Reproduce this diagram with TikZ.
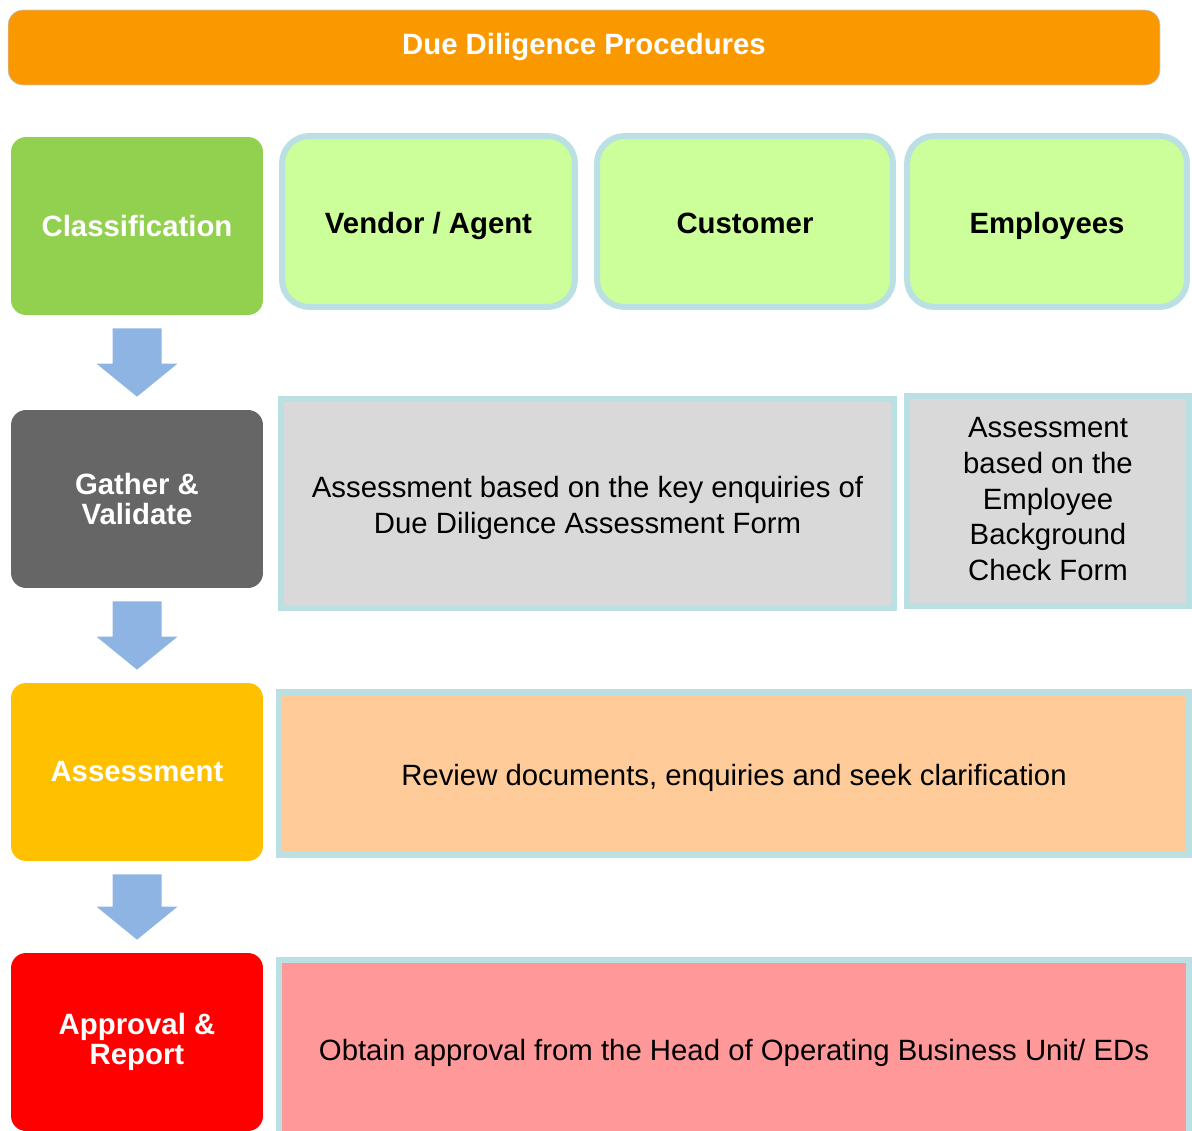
\documentclass[tikz,border=0pt]{standalone}
\usepackage{fontspec}
\setmainfont{Liberation Sans}
\usepackage{tikz}
\usetikzlibrary{calc}

\definecolor{bannerorange}{RGB}{250,152,0}
\definecolor{edgeblue}{RGB}{187,224,228}
\definecolor{stagegreen}{RGB}{146,208,80}
\definecolor{stagegray}{RGB}{102,102,102}
\definecolor{stageamber}{RGB}{255,192,0}
\definecolor{stagered}{RGB}{255,0,0}
\definecolor{kindgreen}{RGB}{204,255,153}
\definecolor{taskgray}{RGB}{217,217,217}
\definecolor{taskpeach}{RGB}{255,204,153}
\definecolor{taskpink}{RGB}{255,153,153}
\definecolor{flowblue}{RGB}{142,180,227}

\begin{document}
\begin{tikzpicture}[
		x=0.02cm, y=-0.02cm,
		stage/.style={rounded corners=0.3cm, minimum width=5.04cm, minimum height=3.56cm,
			inner sep=0pt, align=center, text=white,
			font=\bfseries\fontsize{16.7}{17.2}\selectfont},
		kind/.style={draw=edgeblue, line width=0.12cm, fill=kindgreen, rounded corners=0.55cm,
			minimum height=3.42cm, inner sep=0pt, text height=16.7pt, text depth=3pt,
			font=\bfseries\fontsize{16.7}{20}\selectfont},
		task/.style={draw=edgeblue, line width=0.12cm, inner sep=0pt, align=center,
			font=\fontsize{16.7}{20.4}\selectfont},
		oneline/.style={text height=16.7pt, text depth=3pt},
		flow/.style={fill=flowblue}
	]
		\useasboundingbox (0,0) rectangle (1192,1131);
		\clip (0,0) rectangle (1192,1131);

		\node[draw=gray!45, fill=bannerorange, rounded corners=0.3cm, minimum width=23.04cm,
			minimum height=1.5cm, text=white, font=\bfseries\fontsize{16.7}{20}\selectfont]
			(title) at (584,47.5) {\raisebox{0.14cm}{Due Diligence Procedures}};

		% steps down the left side
		\node[stage, fill=stagegreen] (cls) at (137,226) {Classification};
		\node[stage, fill=stagegray] (gat) at (137,499) {Gather \&\\Validate};
		\node[stage, fill=stageamber] (asm) at (137,772) {Assessment};
		\node[stage, fill=stagered] (apr) at (137,1042) {Approval \&\\Report};

		\foreach \a/\b in {cls/gat, gat/asm, asm/apr}
			\fill[flow] ($(\a.south)+(-24.5,13)$) -- ($(\a.south)+(24.5,13)$)
				-- ($(\b.north)+(24.5,-46)$) -- ($(\b.north)+(40.5,-46)$)
				-- ($(\b.north)+(0,-13)$) -- ($(\b.north)+(-40.5,-46)$)
				-- ($(\b.north)+(-24.5,-46)$) -- cycle;

		% parties
		\node[kind, minimum width=5.86cm] (vendor) at (428.5,221.5) {Vendor / Agent};
		\node[kind, minimum width=5.92cm] (customer) at (745,221.5) {Customer};
		\node[kind, minimum width=5.6cm] (employees) at (1047,221.5) {Employees};

		% what is done at each step
		\node[task, fill=taskgray, minimum width=12.26cm, minimum height=4.18cm] (keyform)
			at (587.5,503.5) {\rule{0pt}{1em}Assessment based on the key enquiries of\\Due Diligence Assessment Form};
		\node[task, fill=taskgray, minimum width=5.64cm, minimum height=4.2cm] (checkform)
			at (1048,501) {Assessment\\based on the\\Employee\\Background\\Check Form\rule[-0.08cm]{0pt}{0pt}};
		\node[task, oneline, fill=taskpeach, minimum width=18.2cm, minimum height=3.26cm] (review)
			at (734,773.5) {Review documents, enquiries and seek clarification};
		\node[task, oneline, fill=taskpink, minimum width=18.2cm, minimum height=3.52cm] (approve)
			at (734,1048) {Obtain approval from the Head of Operating Business Unit/ EDs};
	\end{tikzpicture}
\end{document}
